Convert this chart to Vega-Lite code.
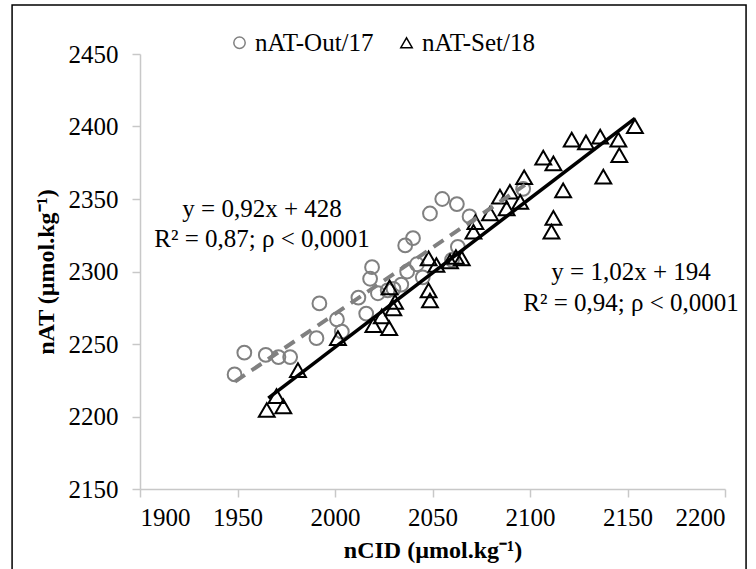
{
  "$schema": "https://vega.github.io/schema/vega-lite/v6.json",
  "width": 585,
  "height": 435,
  "autosize": "none",
  "padding": {"left": 140, "top": 54, "right": 31, "bottom": 80},
  "background": "white",
  "config": {
    "view": {"stroke": null},
    "font": "Liberation Serif",
    "style": {"guide-label": {"font": "Liberation Serif", "fontSize": 25, "fill": "black"}, "guide-title": {"font": "Liberation Serif"}},
    "axis": {"labelFont": "Liberation Serif", "titleFont": "Liberation Serif", "labelFontSize": 25, "titleFontSize": 24, "labelColor": "black", "titleColor": "black", "domainColor": "#c8c8c8", "tickColor": "#c8c8c8", "domainWidth": 1.5, "tickWidth": 1.5, "tickSize": 8, "grid": false},
    "legend": {"labelFont": "Liberation Serif", "labelFontSize": 25, "labelColor": "black"}
  },
  "datasets": {
    "points": [
      {"series": "nAT-Out/17", "x": 1948.5, "y": 2229},
      {"series": "nAT-Out/17", "x": 1953.5, "y": 2244},
      {"series": "nAT-Out/17", "x": 1964.5, "y": 2242.5},
      {"series": "nAT-Out/17", "x": 1971, "y": 2241},
      {"series": "nAT-Out/17", "x": 1977, "y": 2241},
      {"series": "nAT-Out/17", "x": 1990.5, "y": 2254},
      {"series": "nAT-Out/17", "x": 1992, "y": 2278},
      {"series": "nAT-Out/17", "x": 2001, "y": 2267},
      {"series": "nAT-Out/17", "x": 2003.5, "y": 2258.5},
      {"series": "nAT-Out/17", "x": 2016, "y": 2271},
      {"series": "nAT-Out/17", "x": 2012, "y": 2282},
      {"series": "nAT-Out/17", "x": 2018, "y": 2295},
      {"series": "nAT-Out/17", "x": 2019, "y": 2303},
      {"series": "nAT-Out/17", "x": 2022, "y": 2285},
      {"series": "nAT-Out/17", "x": 2027, "y": 2287},
      {"series": "nAT-Out/17", "x": 2030, "y": 2288},
      {"series": "nAT-Out/17", "x": 2034, "y": 2291},
      {"series": "nAT-Out/17", "x": 2037, "y": 2300},
      {"series": "nAT-Out/17", "x": 2036, "y": 2318},
      {"series": "nAT-Out/17", "x": 2040, "y": 2323},
      {"series": "nAT-Out/17", "x": 2042, "y": 2305},
      {"series": "nAT-Out/17", "x": 2045, "y": 2296},
      {"series": "nAT-Out/17", "x": 2048.7, "y": 2340},
      {"series": "nAT-Out/17", "x": 2055, "y": 2350},
      {"series": "nAT-Out/17", "x": 2062.5, "y": 2346.5},
      {"series": "nAT-Out/17", "x": 2063, "y": 2317},
      {"series": "nAT-Out/17", "x": 2060, "y": 2308},
      {"series": "nAT-Out/17", "x": 2069, "y": 2338},
      {"series": "nAT-Out/17", "x": 2096.5, "y": 2357},
      {"series": "nAT-Set/18", "x": 1965, "y": 2204.5},
      {"series": "nAT-Set/18", "x": 1973.5, "y": 2207},
      {"series": "nAT-Set/18", "x": 1970, "y": 2214},
      {"series": "nAT-Set/18", "x": 1981, "y": 2232},
      {"series": "nAT-Set/18", "x": 2001.5, "y": 2254},
      {"series": "nAT-Set/18", "x": 2019.7, "y": 2263},
      {"series": "nAT-Set/18", "x": 2024, "y": 2269},
      {"series": "nAT-Set/18", "x": 2027.8, "y": 2261},
      {"series": "nAT-Set/18", "x": 2029.9, "y": 2274.6},
      {"series": "nAT-Set/18", "x": 2030.8, "y": 2279},
      {"series": "nAT-Set/18", "x": 2028, "y": 2289},
      {"series": "nAT-Set/18", "x": 2048.7, "y": 2280},
      {"series": "nAT-Set/18", "x": 2048, "y": 2287},
      {"series": "nAT-Set/18", "x": 2048, "y": 2309},
      {"series": "nAT-Set/18", "x": 2052, "y": 2304.5},
      {"series": "nAT-Set/18", "x": 2059, "y": 2307},
      {"series": "nAT-Set/18", "x": 2062, "y": 2310},
      {"series": "nAT-Set/18", "x": 2065, "y": 2309},
      {"series": "nAT-Set/18", "x": 2071, "y": 2327.4},
      {"series": "nAT-Set/18", "x": 2072, "y": 2334},
      {"series": "nAT-Set/18", "x": 2079.5, "y": 2340},
      {"series": "nAT-Set/18", "x": 2084.6, "y": 2351.6},
      {"series": "nAT-Set/18", "x": 2088, "y": 2343.5},
      {"series": "nAT-Set/18", "x": 2089.7, "y": 2355},
      {"series": "nAT-Set/18", "x": 2095, "y": 2348},
      {"series": "nAT-Set/18", "x": 2097, "y": 2365},
      {"series": "nAT-Set/18", "x": 2106.8, "y": 2378.5},
      {"series": "nAT-Set/18", "x": 2112, "y": 2374.6},
      {"series": "nAT-Set/18", "x": 2117, "y": 2356},
      {"series": "nAT-Set/18", "x": 2112, "y": 2337},
      {"series": "nAT-Set/18", "x": 2111, "y": 2327.5},
      {"series": "nAT-Set/18", "x": 2121.4, "y": 2391},
      {"series": "nAT-Set/18", "x": 2128.7, "y": 2389},
      {"series": "nAT-Set/18", "x": 2136, "y": 2393},
      {"series": "nAT-Set/18", "x": 2137.6, "y": 2365.4},
      {"series": "nAT-Set/18", "x": 2145.3, "y": 2391},
      {"series": "nAT-Set/18", "x": 2145.8, "y": 2380.3},
      {"series": "nAT-Set/18", "x": 2153.8, "y": 2400.3}
    ],
    "trend": [
      {"series": "nAT-Out/17", "x": 1948.7, "y": 2224},
      {"series": "nAT-Out/17", "x": 2097.4, "y": 2359.7},
      {"series": "nAT-Set/18", "x": 1965.8, "y": 2212.6},
      {"series": "nAT-Set/18", "x": 2153.8, "y": 2405.6}
    ],
    "labels": [
      {"text": "y = 0,92x + 428", "x": 1962.6, "y": 2337.6},
      {"text": "R² = 0,87; ρ < 0,0001", "x": 1962.6, "y": 2317},
      {"text": "y = 1,02x + 194", "x": 2151.8, "y": 2294},
      {"text": "R² = 0,94; ρ < 0,0001", "x": 2151.8, "y": 2273}
    ]
  },
  "layer": [
    {
      "data": {"name": "points"},
      "transform": [{"filter": "datum.series == 'nAT-Out/17'"}],
      "mark": {"type": "point", "filled": false, "strokeWidth": 2, "opacity": 1, "size": 190, "clip": false},
      "encoding": {
        "x": {"field": "x", "type": "quantitative", "scale": {"domain": [1900, 2200], "nice": false, "zero": false}, "axis": {"values": [1900, 1950, 2000, 2050, 2100, 2150, 2200], "format": "d", "title": "nCID (µmol.kg⁻¹)", "titleFontWeight": "bold", "titlePadding": 8, "labelFont": "Liberation Serif", "labelFontWeight": "normal", "labelPadding": 8}},
        "y": {"field": "y", "type": "quantitative", "scale": {"domain": [2150, 2450], "nice": false, "zero": false}, "axis": {"values": [2150, 2200, 2250, 2300, 2350, 2400, 2450], "format": "d", "title": "nAT (µmol.kg⁻¹)", "titleFontWeight": "bold", "titlePadding": 10, "labelFont": "Liberation Serif", "labelFontWeight": "normal", "labelPadding": 14}},
        "shape": {"field": "series", "type": "nominal", "scale": {"domain": ["nAT-Out/17", "nAT-Set/18"], "range": ["circle", "triangle-up"]}, "legend": {"title": null, "orient": "none", "legendX": 87, "legendY": -24, "direction": "horizontal", "symbolSize": 130, "symbolStrokeWidth": 1.5, "columnPadding": 20, "labelOffset": 3}},
        "stroke": {"field": "series", "type": "nominal", "scale": {"domain": ["nAT-Out/17", "nAT-Set/18"], "range": ["#808080", "#000000"]}}
      }
    },
    {
      "data": {"name": "points"},
      "transform": [{"filter": "datum.series == 'nAT-Set/18'"}],
      "mark": {"type": "point", "filled": false, "strokeWidth": 2, "opacity": 1, "size": 250, "clip": false},
      "encoding": {
        "x": {"field": "x", "type": "quantitative"},
        "y": {"field": "y", "type": "quantitative"},
        "shape": {"field": "series", "type": "nominal"},
        "stroke": {"field": "series", "type": "nominal"}
      }
    },
    {
      "data": {"name": "trend"},
      "transform": [{"filter": "datum.series == 'nAT-Out/17'"}],
      "mark": {"type": "line", "color": "#808080", "strokeWidth": 4, "strokeDash": [12, 8]},
      "encoding": {"x": {"field": "x", "type": "quantitative"}, "y": {"field": "y", "type": "quantitative"}}
    },
    {
      "data": {"name": "trend"},
      "transform": [{"filter": "datum.series == 'nAT-Set/18'"}],
      "mark": {"type": "line", "color": "black", "strokeWidth": 3.5},
      "encoding": {"x": {"field": "x", "type": "quantitative"}, "y": {"field": "y", "type": "quantitative"}}
    },
    {
      "data": {"name": "labels"},
      "mark": {"type": "text", "font": "Liberation Serif", "fontSize": 25, "align": "center", "baseline": "alphabetic", "color": "black", "clip": false},
      "encoding": {"x": {"field": "x", "type": "quantitative"}, "y": {"field": "y", "type": "quantitative"}, "text": {"field": "text"}}
    },
    {
      "data": {"values": [{}]},
      "mark": {"type": "rect", "fill": "transparent", "stroke": "black", "strokeWidth": 1.5, "clip": false},
      "encoding": {
        "x": {"datum": 1834.4, "type": "quantitative"},
        "x2": {"datum": 2210.8},
        "y": {"datum": 2483.8, "type": "quantitative"},
        "y2": {"datum": 2090}
      }
    }
  ]
}
